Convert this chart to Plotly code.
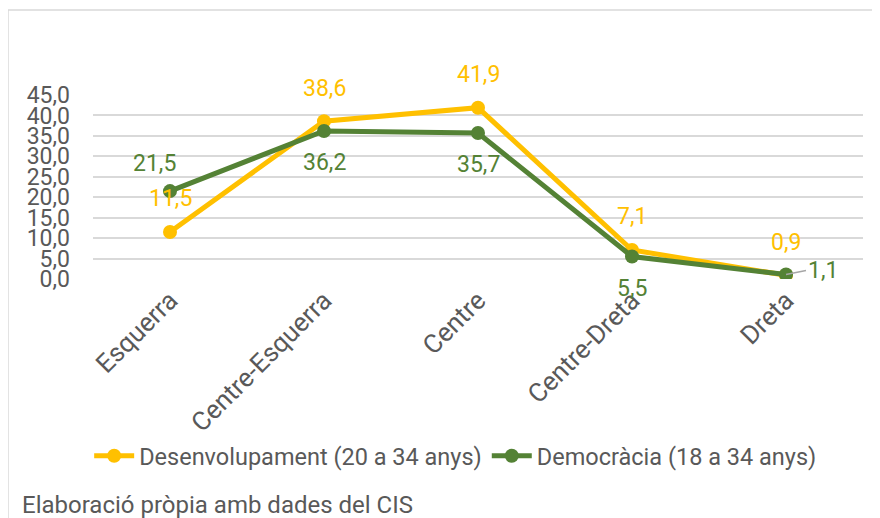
import plotly.graph_objects as go

categories = ["Esquerra", "Centre-Esquerra", "Centre", "Centre-Dreta", "Dreta"]
desenvolupament = [11.5, 38.6, 41.9, 7.1, 0.9]
democracia = [21.5, 36.2, 35.7, 5.5, 1.1]
series_names = ["Desenvolupament (20 a 34 anys)", "Democràcia (18 a 34 anys)"]
y_ticks = [0, 5, 10, 15, 20, 25, 30, 35, 40, 45]
source_text = "Elaboració pròpia amb dades del CIS"

YELLOW = "#FFC000"
GREEN = "#548235"
GRAY = "#595959"
GRID = "#D9D9D9"
FONT = "Roboto"
FS = 23

# label offsets (style only)
yellow_offsets = [(0, 33)] * 5
green_offsets = [(-16, 28), (0, -32), (0, -31), (0, -32), (None, None)]

fig = go.Figure()
fig.add_trace(go.Scatter(x=categories, y=desenvolupament, name=series_names[0],
                         mode="lines+markers",
                         line=dict(color=YELLOW, width=5),
                         marker=dict(color=YELLOW, size=14)))
fig.add_trace(go.Scatter(x=categories, y=democracia, name=series_names[1],
                         mode="lines+markers",
                         line=dict(color=GREEN, width=5),
                         marker=dict(color=GREEN, size=14)))

def fmt(v):
    return f"{v:.1f}".replace(".", ",")

annotations = []
for c, v, (dx, dy) in zip(categories, desenvolupament, yellow_offsets):
    annotations.append(dict(x=c, y=v, text=fmt(v), showarrow=False,
                            xshift=dx, yshift=dy,
                            font=dict(family=FONT, size=FS, color=YELLOW)))
for c, v, off in zip(categories, democracia, green_offsets):
    if off[0] is None:
        annotations.append(dict(x=c, y=v, text=fmt(v), showarrow=True,
                                ax=20, ay=-4, arrowhead=0, arrowwidth=1.5,
                                arrowcolor="#A6A6A6", xanchor="left",
                                font=dict(family=FONT, size=FS, color=GREEN)))
    else:
        annotations.append(dict(x=c, y=v, text=fmt(v), showarrow=False,
                                xshift=off[0], yshift=off[1],
                                font=dict(family=FONT, size=FS, color=GREEN)))

annotations.append(dict(xref="paper", yref="paper", x=-0.0948, y=-1.228,
                        xanchor="left", yanchor="middle", showarrow=False,
                        text=source_text,
                        font=dict(family=FONT, size=24, color=GRAY)))

fig.update_layout(
    width=872, height=510,
    margin=dict(l=85, r=17, t=87, b=239),
    paper_bgcolor="white", plot_bgcolor="white",
    separators=",.",
    font=dict(family=FONT, size=FS, color=GRAY),
    showlegend=True,
    legend=dict(orientation="h", x=0.471, xanchor="center", y=-0.962,
                yanchor="middle", font=dict(family=FONT, size=23.5, color=GRAY),
                itemwidth=40),
    annotations=annotations,
    shapes=[dict(type="rect", xref="paper", yref="paper",
                 x0=-0.1104, x1=1.05, y0=-1.4, y1=1.462,
                 line=dict(color=GRID, width=1.5), layer="below")],
)
fig.update_xaxes(showgrid=False, showline=False, ticks="", tickangle=-45,
                 tickfont=dict(family=FONT, size=26, color=GRAY),
                 range=[-0.5, 4.5])
fig.update_yaxes(range=[0, 45], tickvals=y_ticks, tickformat=".1f",
                 showgrid=True, gridcolor=GRID, gridwidth=1.5,
                 zeroline=False, showline=False, ticks="",
                 ticklabelstandoff=22,
                 tickfont=dict(family=FONT, size=FS, color=GRAY))

fig.write_html("out.html")
